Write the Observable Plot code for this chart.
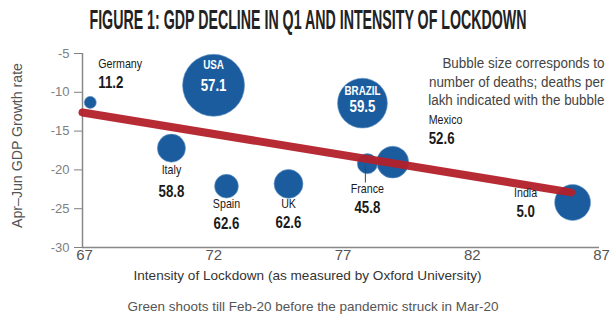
<!DOCTYPE html>
<html><head><meta charset="utf-8">
<script src="https://cdn.jsdelivr.net/npm/d3@7"></script>
<script src="https://cdn.jsdelivr.net/npm/@observablehq/plot@0.6"></script>
<style>
body{margin:0;background:#fff;width:611px;height:321px;overflow:hidden;font-family:"Liberation Sans",Arial,sans-serif;}
#title{height:36px;position:relative;}
#t{position:absolute;left:308px;top:7px;white-space:nowrap;font-weight:bold;font-size:27px;line-height:27px;color:#222;transform-origin:center top;font-family:"Liberation Sans",Arial,sans-serif;}
</style></head><body>
<div id="title"><span id="t">FIGURE 1: GDP DECLINE IN Q1 AND INTENSITY OF LOCKDOWN</span></div>
<div id="chart"></div>
<script>
const countries = ["Germany","USA","Italy","Spain","UK","BRAZIL","France","Mexico","India"];
const lockdown = [67.3, 72.07, 70.44, 72.57, 74.97, 77.83, 78.02, 79.0, 85.96];
const gdpGrowth = [-11.3, -9.1, -17.2, -22.1, -21.8, -11.4, -19.2, -19.0, -24.2];
const deathsPerLakh = ["11.2","57.1","58.8","62.6","62.6","59.5","45.8","52.6","5.0"];
const deathsThousand = [6.4, 170, 35, 25, 37, 110, 18, 45, 57];
const trendX = [67, 85.9];
const trendY = [-12.6, -22.9];
const xTicks = [67, 72, 77, 82, 87];
const yTicks = [-5, -10, -15, -20, -25, -30];
const titleText = "FIGURE 1: GDP DECLINE IN Q1 AND INTENSITY OF LOCKDOWN";
const yLabel = "Apr–Jun GDP Growth rate";
const xLabel = "Intensity of Lockdown (as measured by Oxford University)";
const caption = "Green shoots till Feb-20 before the pandemic struck in Mar-20";
const noteLines = ["Bubble size corresponds to", "number of deaths; deaths per", "lakh indicated with the bubble"];

const data = countries.map((c, i) => ({country: c, x: lockdown[i], y: gdpGrowth[i], label: deathsPerLakh[i], deaths: deathsThousand[i]}));

// label placement (pixel offsets from bubble centre)
const place = {
  Germany: {dx: 8, ny: -39, vy: -20, anchor: "start", fill: "#1a1a1a"},
  USA: {dx: 0, ny: -20, vy: 0, anchor: "middle", fill: "#fff"},
  Italy: {dx: 0, ny: 22, vy: 43, anchor: "middle", fill: "#1a1a1a"},
  Spain: {dx: 0, ny: 18, vy: 37, anchor: "middle", fill: "#1a1a1a"},
  UK: {dx: 0, ny: 20, vy: 39, anchor: "middle", fill: "#1a1a1a"},
  BRAZIL: {dx: 0, ny: -12, vy: 3, anchor: "middle", fill: "#fff"},
  France: {dx: 0, ny: 25, vy: 44, anchor: "middle", fill: "#1a1a1a"},
  Mexico: {dx: 36, ny: -42, vy: -24, anchor: "start", fill: "#1a1a1a"},
  India: {dx: -47, ny: -10, vy: 9, anchor: "middle", fill: "#1a1a1a"}
};

const labelMarks = [];
for (const d of data) {
  const p = place[d.country];
  const inside = d.country === "USA" || d.country === "BRAZIL";
  labelMarks.push(Plot.text([d], {x: "x", y: "y", text: "country", dx: p.dx, dy: p.ny, textAnchor: p.anchor, fill: p.fill, fontSize: inside ? 12 : 13, fontWeight: inside ? "bold" : "normal"}));
  labelMarks.push(Plot.text([d], {x: "x", y: "y", text: "label", dx: p.dx, dy: p.vy, textAnchor: p.anchor, fill: p.fill, fontSize: 17, fontWeight: "bold"}));
}

const france = data.filter(d => d.country === "France");

const chart = Plot.plot({
  width: 611, height: 285,
  marginTop: 17, marginBottom: 74, marginLeft: 82, marginRight: 12,
  x: {domain: [67, 87]},
  y: {domain: [-30, -5]},
  r: {type: "sqrt", domain: [0, 170], range: [0, 31]},
  style: {fontFamily: "'Liberation Sans', Arial, sans-serif", background: "#fff", overflow: "visible"},
  marks: [
    Plot.axisY({ticks: yTicks, tickSize: 8, tickPadding: 5, color: "#808080", fontSize: 13, label: null, tickFormat: d => String(d)}),
    Plot.axisX({ticks: xTicks, tickSize: 0, tickPadding: 2, color: "#555", fontSize: 15, label: null, dx: 2}),
    Plot.ruleY([-30], {stroke: "#888", strokeWidth: 1.5}),
    Plot.ruleX([67], {stroke: "#888", strokeWidth: 1.5}),
    Plot.dot(data, {x: "x", y: "y", r: "deaths", fill: "#1b5c9e", stroke: "#6f9cc8", strokeWidth: 0.6}),
    Plot.ruleX(france, {x: "x", y1: d => d.y - 0.4, y2: d => d.y - 2.5, stroke: "#444", strokeWidth: 1, dx: -2}),
    Plot.line(trendX.map((x, i) => ({x, y: trendY[i]})), {x: "x", y: "y", stroke: "#b3202a", strokeWidth: 8, strokeOpacity: 0.95}),
    ...labelMarks,
    ...noteLines.map((s, i) => Plot.text([s], {text: d => d, frameAnchor: "top-right", textAnchor: "end", dx: 5, dy: 5 + i * 18.5, fontSize: 14, fill: "#444"})),
    Plot.text([yLabel], {text: d => d, frameAnchor: "left", textAnchor: "middle", rotate: -90, dx: -65, dy: -5, fontSize: 14, fill: "#555"}),
    Plot.text([xLabel], {text: d => d, frameAnchor: "bottom", dx: -33.5, dy: 32, fontSize: 13.5, fill: "#333"}),
    Plot.text([caption], {text: d => d, frameAnchor: "bottom", dx: -28, dy: 63, fontSize: 13.5, fill: "#555"})
  ]
});
document.getElementById("chart").appendChild(chart);

function fit(el, len) {
  el.setAttribute("textLength", len);
  el.setAttribute("lengthAdjust", "spacingAndGlyphs");
}
chart.querySelectorAll("text").forEach(el => {
  if (el.querySelector("tspan")) return;
  const s = el.textContent;
  const L = el.getComputedTextLength();
  if (countries.includes(s)) fit(el, L * 0.82);
  else if (deathsPerLakh.includes(s)) fit(el, L * 0.78);
  else if (noteLines.includes(s)) fit(el, L * 0.96);
  else if (s === yLabel) fit(el, 165);
  else if (s === xLabel) fit(el, 348);
  else if (s === caption) fit(el, 371);
});

const t = document.getElementById("t");
t.textContent = titleText;
const w = t.getBoundingClientRect().width;
t.style.transform = `translateX(-50%) scaleX(${437 / w})`;
</script>
</body></html>
